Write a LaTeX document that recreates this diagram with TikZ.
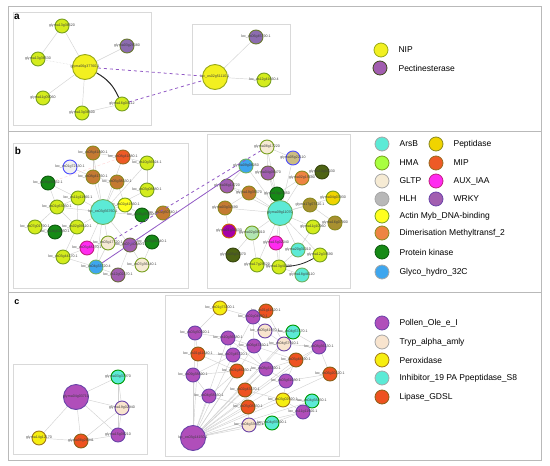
\documentclass[tikz,border=0pt]{standalone}
\usepackage{fontspec}
\setmainfont{Liberation Sans}
\usetikzlibrary{positioning,backgrounds}

\definecolor{ygfill}{HTML}{D4EC1C}
\definecolor{ygdraw}{HTML}{78A020}
\definecolor{nipfill}{HTML}{F2F020}
\definecolor{nipdraw}{HTML}{98A818}
\definecolor{pectfill}{HTML}{8C6CB0}
\definecolor{pectdraw}{HTML}{6A7A30}
\definecolor{arsbfill}{HTML}{5CEAD6}
\definecolor{arsbdraw}{HTML}{70B060}
\definecolor{gltpfill}{HTML}{F6EBD4}
\definecolor{hlhfill}{HTML}{B8B8B8}
\definecolor{peptfill}{HTML}{F0D400}
\definecolor{mipfill}{HTML}{EE5A26}
\definecolor{mipdraw}{HTML}{9A6A20}
\definecolor{auxfill}{HTML}{FF2AF0}
\definecolor{auxdraw}{HTML}{C02080}
\definecolor{wrkyfill}{HTML}{A25EB0}
\definecolor{wrkydraw}{HTML}{6A6A40}
\definecolor{actinfill}{HTML}{FFFF1E}
\definecolor{dimerfill}{HTML}{EE8442}
\definecolor{kinfill}{HTML}{168A16}
\definecolor{kindraw}{HTML}{0E5A0E}
\definecolor{glycofill}{HTML}{3EA6EE}
\definecolor{brnfill}{HTML}{C47A32}
\definecolor{brndraw}{HTML}{8A8A20}
\definecolor{olvfill}{HTML}{A89030}
\definecolor{dolvfill}{HTML}{4E6414}
\definecolor{pollenfill}{HTML}{B04EBA}
\definecolor{pollendraw}{HTML}{6A44A8}
\definecolor{trypfill}{HTML}{F8E4CE}
\definecolor{peroxfill}{HTML}{F6EE10}
\definecolor{peroxdraw}{HTML}{A07818}
\definecolor{lipasefill}{HTML}{EE5220}
\definecolor{lipasedraw}{HTML}{8A6018}
\definecolor{linkcol}{HTML}{9058C4}

\tikzset{
  gene/.style={circle, inner sep=0pt, minimum size=14pt, line width=0.9pt},
  hub/.style={minimum size=25pt},
  lbl/.style={font=\fontsize{3.6}{4}\selectfont, text=black!75, inner sep=0pt},
  edge/.style={gray!35, line width=0.45pt},
  frame/.style={gray!30, line width=0.7pt},
  link/.style={linkcol, line width=0.8pt},
  key/.style={circle, inner sep=0pt, minimum size=14pt, line width=0.8pt},
  keytext/.style={font=\fontsize{8.5}{10}\selectfont, inner sep=0pt, anchor=west},
  yg/.style={gene, fill=ygfill, draw=ygdraw},
  nip/.style={gene, fill=nipfill, draw=nipdraw},
  pect/.style={gene, fill=pectfill, draw=pectdraw},
  arsb/.style={gene, fill=arsbfill, draw=arsbdraw},
  gltp/.style={gene, fill=gltpfill, draw=ygdraw},
  ring/.style={gene, fill=gray!12, draw=blue!70},
  kin/.style={gene, fill=kinfill, draw=kindraw},
  brn/.style={gene, fill=brnfill, draw=brndraw},
  mip/.style={gene, fill=mipfill, draw=mipdraw},
  wrky/.style={gene, fill=wrkyfill, draw=wrkydraw},
  aux/.style={gene, fill=auxfill, draw=auxdraw},
  glyco/.style={gene, fill=glycofill, draw=arsbdraw},
  pept/.style={gene, fill=peptfill, draw=ygdraw},
  actin/.style={gene, fill=actinfill, draw=ygdraw},
  olv/.style={gene, fill=olvfill, draw=brndraw},
  dolv/.style={gene, fill=dolvfill, draw=dolvfill!70!black},
  dimer/.style={gene, fill=dimerfill, draw=brndraw},
  violet/.style={gene, fill=violet!70!magenta, draw=orange!80!black},
  ggrn/.style={gene, fill=gray!50!green!40, draw=ygdraw},
  oring/.style={gene, fill=olvfill!60, draw=blue!70},
  pollen/.style={gene, fill=pollenfill, draw=pollendraw},
  tryp/.style={gene, fill=trypfill, draw=pollendraw},
  perox/.style={gene, fill=peroxfill, draw=peroxdraw},
  inhib/.style={gene, fill=arsbfill, draw=green!60!black},
  lipase/.style={gene, fill=lipasefill, draw=lipasedraw}
}

\begin{document}
\begin{tikzpicture}[x=1pt, y=-1pt]
  \useasboundingbox (0,0) rectangle (550,466);

  % Outer frame and panel dividers
  \draw[gray!55, line width=0.8pt] (8,6) rectangle (541,460);
  \draw[gray!55, line width=0.8pt] (8,131) -- (541,131);
  \draw[gray!55, line width=0.8pt] (8,292) -- (541,292);
  \node[font=\bfseries\fontsize{10}{12}\selectfont] at (17,17) {a};
  \node[font=\bfseries\fontsize{10}{12}\selectfont] at (18,151) {b};
  \node[font=\bfseries\fontsize{9}{11}\selectfont] at (17,302) {c};

  % Inner network boxes
  \draw[frame] (13,12) rectangle (151,125);
  \draw[frame] (192,24) rectangle (290,94);
  \draw[frame] (13,143) rectangle (188,288);
  \draw[frame] (207,134) rectangle (350,288);
  \draw[frame] (13,364) rectangle (147,454);
  \draw[frame] (165,295) rectangle (339,456);

  % ---------- Panel a ----------
  \foreach \n/\x/\y/\s/\lab in {
      a1/62/26/yg/glyma13g36520,
      a2/127/46/pect/glyma03g29380,
      a3/38/59/yg/glyma13g36530,
      a5/43/98/yg/glyma11g09060,
      a6/122/104/yg/glyma16g04112,
      a7/82/113/yg/glyma13g36500,
      A2/256/37/pect/loc\_os06g45790.1,
      A3/264/80/yg/loc\_os12g41660.4}
    \node[\s, label={[lbl]center:\lab}] (\n) at (\x,\y) {};
  \node[nip, hub, label={[lbl]center:glyma06g37760.1}] (a4) at (85,67) {};
  \node[nip, hub, label={[lbl]center:loc\_os02g51110.1}] (A1) at (215,77) {};

  \begin{scope}[on background layer]
    \foreach \a/\b in {a4/a1, a4/a2, a4/a5, a4/a7, a1/a3, a7/a6, A1/A2, A1/A3}
      \draw[edge] (\a) -- (\b);
    \draw[edge, densely dotted] (a4) -- (a3);
  \end{scope}
  \draw[gray!30!black, line width=1pt] (a4) to[bend left=18] (a6);
  \draw[link, dashed] (a4) -- (A1);
  \draw[link, dashed] (a6) -- (A1);

  % Legend a
  \node[key, fill=nipfill, draw=nipdraw] (kNIP) at (381,50) {};
  \node[keytext, right=10pt of kNIP] {NIP};
  \node[key, fill=wrkyfill, draw=pectdraw!60!black] (kPect) at (380,68) {};
  \node[keytext, right=11pt of kPect] {Pectinesterase};

  % ---------- Panel b ----------
  \foreach \n/\x/\y/\s/\lab in {
      L1/93/153/brn/loc\_os08g41890.1,
      L2/123/157/mip/loc\_os08g41880.1,
      L3/147/163/yg/loc\_os10g36924.1,
      L4/70/167/ring/loc\_os01g72130.1,
      L5/93/177/brn/loc\_os08g41760.1,
      L6/48/183/kin/loc\_os08g09032.1,
      L7/117/182/brn/loc\_os05g38330.1,
      L8/147/190/yg/loc\_os03g08880.1,
      L9/78/198/yg/loc\_os11g11960.1,
      L10/57/207/yg/loc\_os01g63050.1,
      L11/125/205/actin/loc\_os02g41560.1,
      L13/142/215/kin/loc\_os06g35950.1,
      L14/163/213/brn/loc\_os02g50740.1,
      L15/35/227/yg/loc\_os07g01790.1,
      L16/77/227/yg/loc\_os02g09110.1,
      L17/55/232/kin/loc\_os04g52850.1,
      L18/152/242/kin/loc\_os03g56340.1,
      L19/108/243/gltp/loc\_os03g17720.1,
      L20/130/245/wrky/loc\_os02g50680.1,
      L21/87/248/aux/loc\_os05g48270.1,
      L22/63/257/yg/loc\_os03g44170.1,
      L23/142/265/gltp/loc\_os07g36140.1,
      L24/96/267/glyco/loc\_os04g33720.4,
      L25/118/275/wrky/loc\_os12g02470.1}
    \node[\s, label={[lbl]center:\lab}] (\n) at (\x,\y) {};
  \node[arsb, hub, label={[lbl]center:loc\_os03g56760.1}] (L12) at (103,212) {};

  \foreach \n/\x/\y/\s/\lab in {
      R1/267/147/gltp/glyma08g17220,
      R2/293/158/oring/glyma05g22110,
      R3/246/166/glyco/glyma09g08050,
      R4/268/173/wrky/glyma04g06470,
      R5/322/172/dolv/glyma10g04330,
      R6/302/178/dimer/glyma02g15690,
      R7/227/186/wrky/glyma06g14720,
      R8/249/193/brn/glyma19g35570,
      R9/277/194/kin/glyma13g27850,
      R10/333/198/pept/glyma04g03930,
      R11/310/205/olv/glyma17g07410.1,
      R12/225/208/brn/glyma03g32690,
      R14/313/227/yg/glyma11g10960,
      R15/335/223/olv/glyma16g07900,
      R16/229/231/violet/glyma01g38630,
      R17/252/233/ggrn/glyma02g08010,
      R18/276/243/aux/glyma15g02040,
      R19/298/250/arsb/glyma20g31010,
      R20/233/255/dolv/glyma05g31370,
      R21/320/255/yg/glyma12g34590,
      R22/257/265/yg/glyma17g29520,
      R23/279/267/yg/glyma13g41890,
      R24/302/275/arsb/glyma18g46110}
    \node[\s, label={[lbl]center:\lab}] (\n) at (\x,\y) {};
  \node[arsb, hub, label={[lbl]center:glyma09g11070}] (R13) at (280,213) {};

  \begin{scope}[on background layer]
    \foreach \a/\b in {L12/L1, L12/L2, L12/L5, L12/L7, L12/L9, L12/L11, L12/L13,
        L12/L16, L12/L19, L12/L20, L12/L21, L12/L24, L12/L8, L12/L10, L12/L3,
        L1/L2, L2/L3, L1/L5, L5/L7, L6/L9, L9/L10, L10/L15, L10/L16, L15/L17,
        L16/L17, L16/L22, L22/L21, L21/L19, L19/L20, L20/L18, L20/L23, L24/L25,
        L24/L19, L25/L20, L11/L13, L13/L14, L8/L3, L7/L11, L4/L5, L22/L24,
        L18/L23, L9/L16, L6/L10}
      \draw[edge] (\a) -- (\b);
    \draw[pink!70, densely dashed, line width=0.4pt] (L6) -- (L2);
    \foreach \a/\b in {R13/R1, R13/R4, R13/R6, R13/R8, R13/R9, R13/R11,
        R13/R12, R13/R14, R13/R17, R13/R18, R13/R19, R13/R22, R13/R23, R13/R2,
        R13/R7, R13/R3, R13/R21, R13/R10, R1/R4, R1/R2, R3/R7, R4/R9, R5/R6,
        R6/R9, R8/R12, R17/R22, R17/R20, R18/R23, R19/R23, R23/R24, R22/R23,
        R14/R19, R11/R15, R7/R8, R12/R16, R16/R17}
      \draw[edge] (\a) -- (\b);
  \end{scope}
  \draw[gray!30!black, line width=0.8pt] (R23) to[bend right=12] (R21);
  \draw[link, dashed] (L19) -- (R1);
  \draw[link] (L24) -- (R3);

  % Legend b
  \foreach \k/\y/\f/\d/\t in {
      ArsB/144/arsbfill/gray!70/ArsB,
      HMA/163/green!45!yellow!75/ygdraw/HMA,
      GLTP/181/gltpfill/gray!70/GLTP,
      HLH/199/hlhfill/gray!70/HLH,
      Actin/216/actinfill/ygdraw/Actin Myb\_DNA-binding,
      Dimer/233/dimerfill/brndraw/Dimerisation Methyltransf\_2,
      Kin/252/kinfill/kindraw/Protein kinase,
      Glyco/272/glycofill/gray!70/Glyco\_hydro\_32C}
  {
    \node[key, fill=\f, draw=\d] (k\k) at (382,\y) {};
    \node[keytext, right=10pt of k\k] {\t};
  }
  \foreach \k/\y/\f/\d/\t in {
      Pept/144/peptfill/brndraw/Peptidase,
      MIP/163/mipfill/mipdraw/MIP,
      AUX/181/auxfill/auxdraw/AUX\_IAA,
      WRKY/199/wrkyfill/pollendraw/WRKY}
  {
    \node[key, fill=\f, draw=\d] (k\k) at (436,\y) {};
    \node[keytext, right=10pt of k\k] {\t};
  }

  % ---------- Panel c ----------
  \foreach \n/\x/\y/\s/\lab in {
      C2/118/377/inhib/glyma03g37970,
      C3/122/408/tryp/glyma19g02940,
      C4/118/435/pollen/glyma15g08210,
      C5/39/438/perox/glyma14g12170,
      C6/81/441/lipase/glyma08g28941}
    \node[\s, label={[lbl]center:\lab}] (\n) at (\x,\y) {};
  \node[pollen, hub, label={[lbl]center:glyma04g03710}] (C1) at (76,397) {};

  \foreach \n/\x/\y/\s/\lab in {
      D1/220/308/perox/loc\_os01g73200.1,
      D2/266/311/lipase/loc\_os01g11620.1,
      D3/253/317/pollen/loc\_os02g04980.1,
      D4/265/331/tryp/loc\_os05g41970.1,
      D5/293/332/inhib/loc\_os04g57470.1,
      D6/195/333/pollen/loc\_os03g50920.1,
      D7/228/338/pollen/loc\_os10g36580.1,
      D8/284/344/tryp/loc\_os04g57910.1,
      D9/254/346/pollen/loc\_os06g47450.1,
      D10/319/347/pollen/loc\_os08g36130.1,
      D11/198/354/lipase/loc\_os01g11640.1,
      D12/233/355/pollen/loc\_os07g45720.1,
      D13/296/360/lipase/loc\_os05g48190.1,
      D14/237/371/lipase/loc\_os01g46250.1,
      D15/266/369/pollen/loc\_os08g33390.1,
      D16/193/375/pollen/loc\_os09g38890.1,
      D17/330/374/lipase/loc\_os06g20120.1,
      D18/286/381/pollen/loc\_os03g61030.1,
      D19/245/390/lipase/loc\_os02g43470.1,
      D20/209/396/pollen/loc\_os04g58160.1,
      D21/283/400/perox/loc\_os03g02920.1,
      D22/312/401/inhib/loc\_os04g58250.1,
      D23/248/407/lipase/loc\_os05g08350.1,
      D24/303/412/pollen/loc\_os11g11900.1,
      D25/272/423/inhib/loc\_os04g55590.1,
      D26/249/425/tryp/loc\_os04g33660.1}
    \node[\s, label={[lbl]center:\lab}] (\n) at (\x,\y) {};
  \node[pollen, hub, label={[lbl]center:loc\_os03g14150.1}] (D27) at (193,438) {};

  \begin{scope}[on background layer]
    \foreach \a/\b in {C1/C2, C1/C3, C1/C4, C1/C6, C1/C5, C5/C6, C6/C3, C6/C4,
        C2/C3, C3/C4, C2/C4}
      \draw[edge] (\a) -- (\b);
    \foreach \t in {D16, D20, D12, D6, D9, D13, D14, D15, D17, D18, D19, D21,
        D22, D23, D25, D26, D11, D5, D8, D24, D7, D10}
      \draw[edge] (D27) -- (\t);
    \foreach \a/\b in {D1/D3, D1/D6, D3/D2, D3/D4, D4/D5, D4/D8, D5/D8, D6/D7,
        D6/D11, D7/D9, D7/D12, D8/D9, D8/D10, D9/D13, D10/D13, D11/D12,
        D12/D14, D13/D15, D13/D18, D14/D16, D15/D19, D16/D20, D17/D18,
        D18/D21, D19/D23, D21/D22, D21/D24, D22/D24, D23/D26, D24/D25,
        D25/D26, D12/D15, D9/D15, D3/D9, D2/D8, D16/D12, D20/D14, D11/D14,
        D7/D15, D3/D12, D10/D17, D5/D10, D15/D18, D19/D21, D20/D23}
      \draw[edge] (\a) -- (\b);
  \end{scope}

  % Legend c
  \foreach \k/\y/\f/\d/\t in {
      Pollen/323/pollenfill/pollendraw/Pollen\_Ole\_e\_I,
      Tryp/342/trypfill/gray!70/Tryp\_alpha\_amly,
      Perox/360/peroxfill/peroxdraw/Peroxidase,
      Inhib/378/arsbfill/gray!70/Inhibitor\_19 PA Ppeptidase\_S8,
      Lipase/397/lipasefill/lipasedraw/Lipase\_GDSL}
  {
    \node[key, fill=\f, draw=\d] (k\k) at (382,\y) {};
    \node[keytext, right=10pt of k\k] {\t};
  }
\end{tikzpicture}
\end{document}
